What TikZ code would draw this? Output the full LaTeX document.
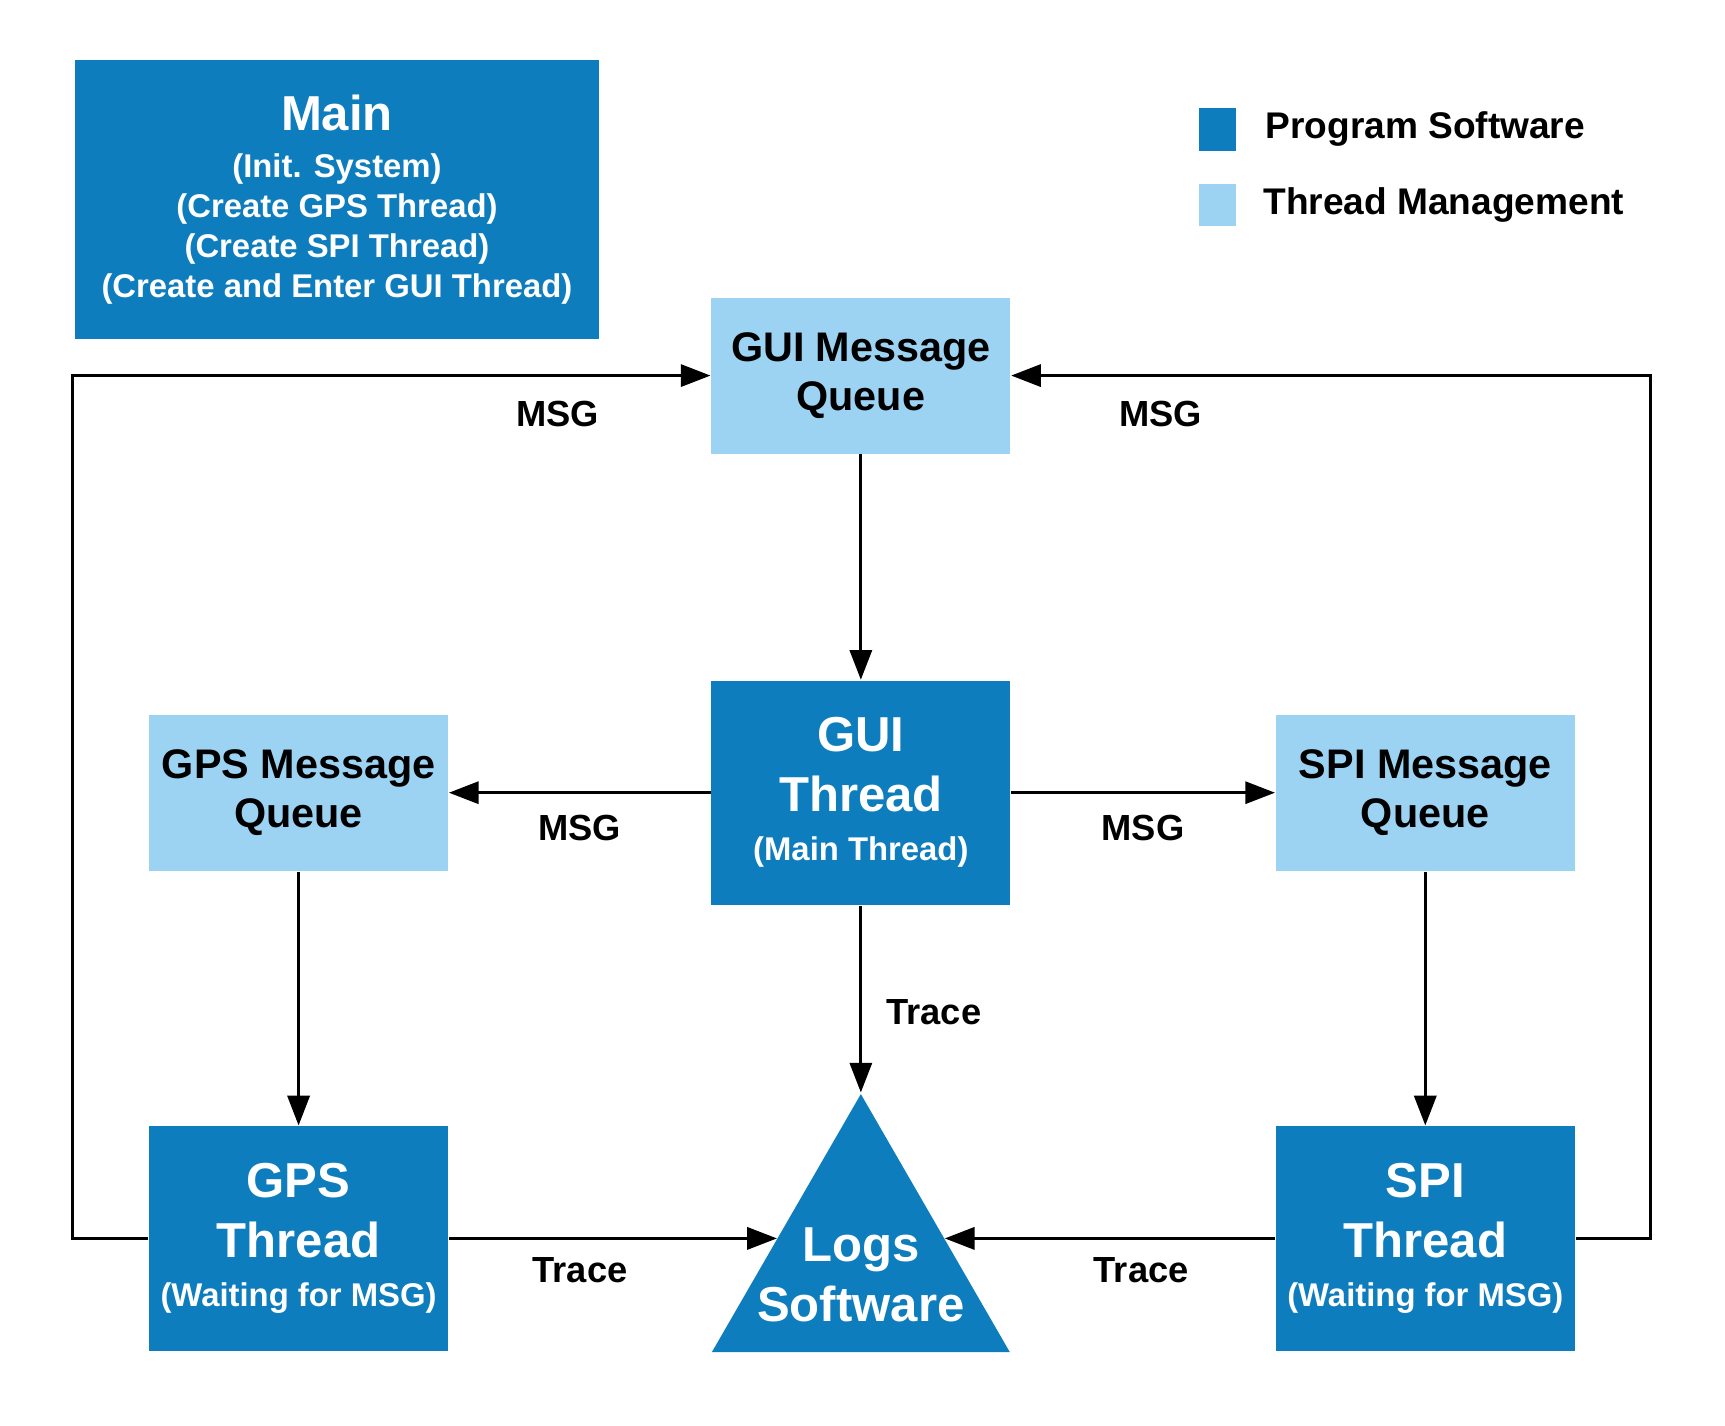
\documentclass[tikz,border=0pt]{standalone}
\usepackage{fontspec}
\setmainfont{Liberation Sans}
\usetikzlibrary{shapes,arrows,positioning,calc,shapes.geometric,arrows.meta}
\definecolor{progblue}{HTML}{0E7DBD}
\definecolor{threadblue}{HTML}{9CD3F3}
\newcommand{\bigtxt}{\fontsize{12.7}{15.4}\selectfont}
\newcommand{\smalltxt}{\fontsize{8.5}{10.4}\selectfont}

\begin{document}
\begin{tikzpicture}[
				font=\bfseries,
				node distance=2cm,
				program/.style={rectangle, fill=progblue, text=white, minimum width=2.72cm, minimum height=2.04cm, align=center, inner sep=0pt, font=\bfseries\bigtxt},
				thread/.style={rectangle, fill=threadblue, text=black, minimum width=2.72cm, minimum height=1.42cm, align=center, inner sep=0pt, font=\bfseries\fontsize{10.7}{12.5}\selectfont},
				logs/.style={regular polygon, regular polygon sides=3, fill=progblue, minimum size=3.13cm, inner sep=0pt},
				legend/.style={rectangle, minimum width=0.33cm, minimum height=0.39cm, inner sep=0pt},
				msg/.style={font=\bfseries\fontsize{9.4}{11}\selectfont, text=black},
				link/.style={-{Triangle[length=7.7pt,width=5.7pt]}, line width=0.85pt}
				]
				\useasboundingbox (0,0) rectangle (15.69,-12.962);
				
				\node[program, minimum width=4.77cm, minimum height=2.53cm, font=\bfseries\smalltxt] (main) at (3.065,-1.815) {{\bigtxt Main}\\[1.8pt](Init. System)\\(Create GPS Thread)\\(Create SPI Thread)\\(Create and Enter GUI Thread)};
				
				\node[legend, fill=progblue] (legprog) at (11.075,-1.175) {};
				\node[right=0.14cm of legprog, font=\bfseries\fontsize{9.6}{11}\selectfont] (legprogtxt) {Program Software};
				\node[legend, fill=threadblue] (legthread) at (11.075,-1.865) {};
				\node[right=0.12cm of legthread, font=\bfseries\fontsize{9.6}{11}\selectfont] (legthreadtxt) {Thread Management};
				
				\node[program] (guithread) at (7.83,-7.21) {GUI\\Thread\\[-2.6pt]{\smalltxt (Main Thread)}};
				\node[thread, above=2.05cm of guithread] (guimq) {GUI Message\\Queue};
				\node[thread, left=2.38cm of guithread] (gpsmq) {GPS Message\\Queue};
				\node[thread, right=2.40cm of guithread] (spimq) {SPI Message\\Queue};
				\node[program, below=2.31cm of gpsmq] (gpsthread) {GPS\\Thread\\[-2.8pt]{\smalltxt (Waiting for MSG)}};
				\node[program, below=2.31cm of spimq] (spithread) {SPI\\Thread\\[-2.8pt]{\smalltxt (Waiting for MSG)}};
				\node[logs, below=1.70cm of guithread, label={[text=white, font=\bfseries\bigtxt, align=center, yshift=-0.8mm]center:Logs\\Software}] (logs) {};
				
				\coordinate (logsleft) at ($(logs.corner 1)!0.558!(logs.corner 2)$);
				\coordinate (logsright) at ($(logs.corner 1)!0.558!(logs.corner 3)$);
				
				\draw[link] (guimq) -- (guithread);
				\draw[link] (guithread) -- node[msg, below=0.7mm] {MSG} (gpsmq);
				\draw[link] (guithread) -- node[msg, below=0.7mm] {MSG} (spimq);
				\draw[link] (gpsmq) -- (gpsthread);
				\draw[link] (spimq) -- (spithread);
				\draw[link] (guithread) -- node[msg, right=1mm, pos=0.57] {Trace} (logs.corner 1);
				\draw[link] (gpsthread.east) -- node[msg, pos=0.40, below=0.4mm] {Trace} (gpsthread.east -| logsleft);
				\draw[link] (spithread.west) -- node[msg, pos=0.405, below=0.4mm] {Trace} (spithread.west -| logsright);
				\draw[link] (gpsthread.west) -- ++(-0.69,0) |- node[msg, pos=0.88, below=1mm] {MSG} (guimq.west);
				\draw[link] (spithread.east) -- ++(0.68,0) |- node[msg, pos=0.883, below=1mm] {MSG} (guimq.east);
			\end{tikzpicture}
\end{document}
